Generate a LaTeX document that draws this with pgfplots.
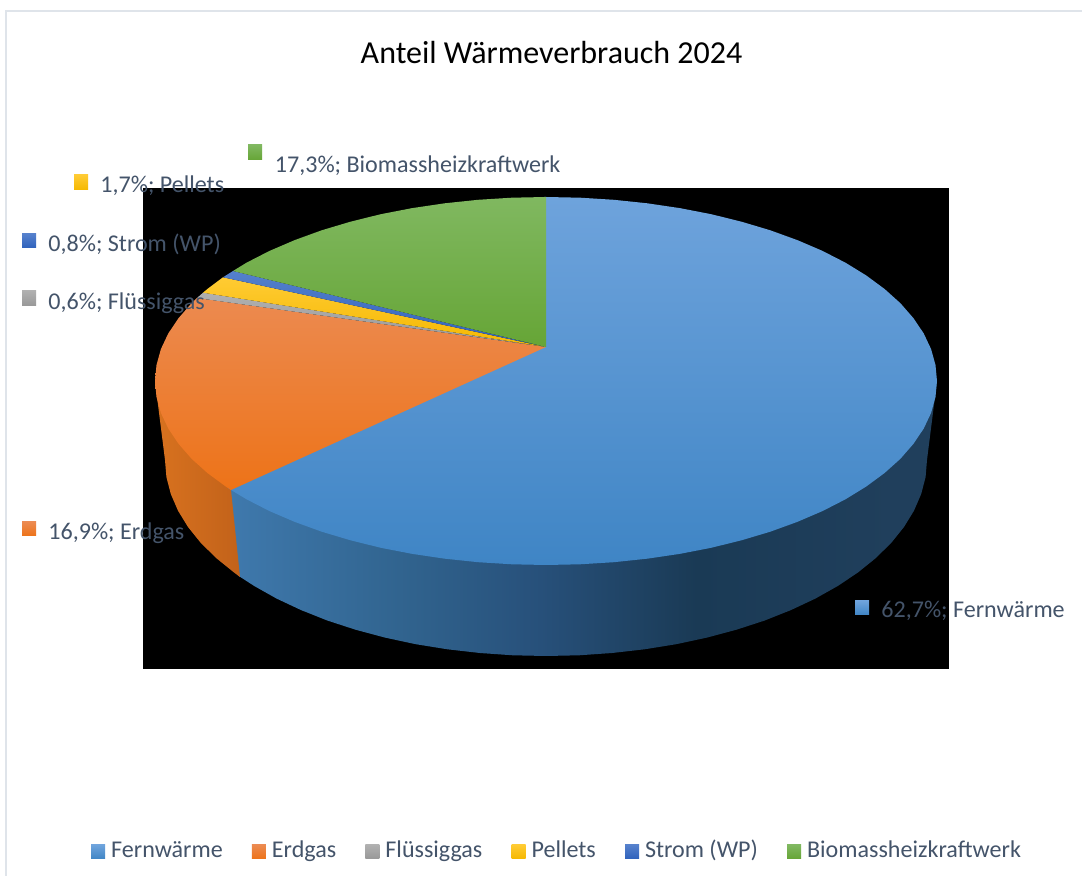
\documentclass[border=0pt]{standalone}
\usepackage{pgfplots}
\pgfplotsset{compat=1.18}
\usepackage{fontspec}
\setmainfont{Carlito}
\definecolor{labeltxt}{HTML}{44546A}
\definecolor{frameline}{HTML}{DFE4EA}
\definecolor{fs1}{HTML}{3F79AD}
\definecolor{fs2}{HTML}{31648F}
\definecolor{fs3}{HTML}{27507A}
\definecolor{fs4}{HTML}{1A3A55}
\definecolor{fs5}{HTML}{203F5C}
\definecolor{es1}{HTML}{D8721F}
\definecolor{es2}{HTML}{C2621A}
\definecolor{fernT}{HTML}{6EA3DC}
\definecolor{fernB}{HTML}{3F85C5}
\definecolor{erdT}{HTML}{EC8A50}
\definecolor{erdB}{HTML}{ED7318}
\definecolor{fluT}{HTML}{B0B0B0}
\definecolor{fluB}{HTML}{989898}
\definecolor{pelT}{HTML}{FFCB33}
\definecolor{pelB}{HTML}{F5B800}
\definecolor{strT}{HTML}{5580CC}
\definecolor{strB}{HTML}{2F62BC}
\definecolor{bioT}{HTML}{80B860}
\definecolor{bioB}{HTML}{66A536}
\pgfdeclarehorizontalshading{fernside}{100bp}{color(0bp)=(fs1);color(25bp)=(fs1);color(37bp)=(fs2);color(47bp)=(fs3);color(58bp)=(fs4);color(72bp)=(fs5);color(100bp)=(fs5)}
\pgfdeclarehorizontalshading{erdside}{100bp}{color(0bp)=(es1);color(25bp)=(es1);color(75bp)=(es2);color(100bp)=(es2)}
\newcommand{\lab}[3]{\node[anchor=base west,inner sep=0pt,text=labeltxt,font=\fontsize{12.03}{14}\selectfont] at (axis cs:#1,#2) {#3};}

\begin{document}
\begin{tikzpicture}
\begin{axis}[
  scale only axis, width=541pt, height=438pt,
  xmin=0, xmax=1082, ymin=0, ymax=876, y dir=reverse,
  hide axis,
  legend columns=6,
  legend style={at={(0.5158,0.0275)},anchor=center,draw=none,fill=none,
    font=\fontsize{12.03}{14}\selectfont,text=labeltxt,
    nodes={text height=8.5pt,text depth=2.8pt},
    /tikz/every even column/.append style={column sep=12.6pt}},
  legend image code/.code={\path[#1,draw=none] (0pt,-3.5pt) rectangle (7pt,3.5pt);\path (0pt,0pt) -- (8pt,0pt);},
]
% page background, frame and the black patch behind the pie
\addplot[forget plot,fill=white,draw=none] coordinates {(0,0)(1082,0)(1082,876)(0,876)} --cycle;
\addplot[forget plot,color=frameline,line width=1pt] coordinates {(6,876)(6,11)(1082,11)};
\addplot[forget plot,fill=black,draw=none] coordinates {(143,188)(949,188)(949,669)(143,669)} --cycle;

% sides of the pie
\addplot[forget plot,draw=none,shade,shading=fernside] coordinates {
(229,489)(238,575.5)(254.2,586)(276.6,598.6)(301.1,610.1)(327.5,620.6)(355.5,629.7)(385,637.6)(415.7,644.2)(447.4,649.3)(479.9,653)(512.8,655.3)(546,656)
(579.2,655.3)(612.1,653)(644.6,649.3)(676.3,644.2)(707,637.6)(736.5,629.7)(764.5,620.6)(790.9,610.1)(815.4,598.6)(837.8,586)(858.1,572.4)(875.9,558)(891.3,542.8)(904,527)(914,510.7)(921.2,494)(925.6,477.1)(927,460)(937,381)
} --cycle;
\addplot[forget plot,draw=none,shade,shading=erdside] coordinates {
(231,490)(240,577)(233.9,572.4)(216.1,558)(200.7,542.8)(188,527)(178,510.7)(170.8,494)(166.4,477.1)(165,460)(155,381)
} --cycle;

% top faces, one for each share
\addplot[draw=none,top color=fernT,bottom color=fernB] coordinates {
(544,347)(544,197)(546,197)(580.1,197.7)(613.9,199.8)(647.2,203.3)(679.7,208.1)(711.2,214.2)(741.5,221.7)(770.3,230.3)(797.3,240.1)(822.5,250.9)(845.5,262.7)(866.3,275.5)(884.6,289)(900.4,303.2)(913.4,318.1)(923.7,333.4)(931.1,349.1)(935.5,365)(937,381)
(935.5,397)(931.1,412.9)(923.7,428.6)(913.4,443.9)(900.4,458.8)(884.6,473)(866.3,486.5)(845.5,499.3)(822.5,511.1)(797.3,521.9)(770.3,531.7)(741.5,540.3)(711.2,547.8)(679.7,553.9)(647.2,558.7)(613.9,562.2)(580.1,564.3)(546,565)
(511.9,564.3)(478.1,562.2)(444.8,558.7)(412.3,553.9)(380.8,547.8)(350.5,540.3)(321.7,531.7)(294.7,521.9)(269.5,511.1)(246.5,499.3)(231,490)(228,488)
} --cycle;
\addlegendentry{Fernwärme}
\addplot[draw=none,top color=erdT,bottom color=erdB] coordinates {
(546,347)(231,490)(225.7,486.5)(207.4,473)(191.6,458.8)(178.6,443.9)(168.3,428.6)(160.9,412.9)(156.5,397)(155,381)(156.5,365)(160.9,349.1)(168.3,333.4)(178.6,318.1)(191.6,303.2)(197,298)
} --cycle;
\addlegendentry{Erdgas}
\addplot[draw=none,top color=fluT,bottom color=fluB] coordinates {(546,347)(197,298)(203,292.7)} --cycle;
\addlegendentry{Flüssiggas}
\addplot[draw=none,top color=pelT,bottom color=pelB] coordinates {(546,347)(203,292.7)(207.4,289)(223,277.3)} --cycle;
\addlegendentry{Pellets}
\addplot[draw=none,top color=strT,bottom color=strB] coordinates {(546,347)(223,277.3)(233,271)} --cycle;
\addlegendentry{Strom (WP)}
\addplot[draw=none,top color=bioT,bottom color=bioB] coordinates {
(546,347)(233,271)(246.5,262.7)(269.5,250.9)(294.7,240.1)(321.7,230.3)(350.5,221.7)(380.8,214.2)(412.3,208.1)(444.8,203.3)(478.1,199.8)(511.9,197.7)(546,197)
} --cycle;
\addlegendentry{Biomassheizkraftwerk}

% swatches of the data labels
\addplot[forget plot,draw=none,top color=fernT,bottom color=fernB] coordinates {(855,601)(869,601)(869,615)(855,615)} --cycle;
\addplot[forget plot,draw=none,top color=erdT,bottom color=erdB] coordinates {(22,522)(36,522)(36,536)(22,536)} --cycle;
\addplot[forget plot,draw=none,top color=fluT,bottom color=fluB] coordinates {(22,291)(36,291)(36,306)(22,306)} --cycle;
\addplot[forget plot,draw=none,top color=pelT,bottom color=pelB] coordinates {(74,175)(88,175)(88,190)(74,190)} --cycle;
\addplot[forget plot,draw=none,top color=strT,bottom color=strB] coordinates {(22,234)(36,234)(36,248)(22,248)} --cycle;
\addplot[forget plot,draw=none,top color=bioT,bottom color=bioB] coordinates {(248,145)(262,145)(262,160)(248,160)} --cycle;

\lab{881}{618}{62,7\%; Fernwärme}
\lab{48}{540}{16,9\%; Erdgas}
\lab{48}{310}{0,6\%; Flüssiggas}
\lab{48}{252}{0,8\%; Strom (WP)}
\lab{100}{193}{1,7\%; Pellets}
\lab{274.5}{173}{17,3\%; Biomassheizkraftwerk}
\node[anchor=base,inner sep=0pt,font=\fontsize{16}{19}\selectfont] at (axis cs:551.5,64) {Anteil Wärmeverbrauch 2024};
\end{axis}
\end{tikzpicture}
\end{document}
